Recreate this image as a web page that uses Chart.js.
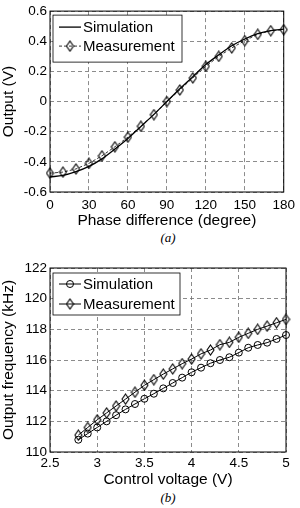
<!DOCTYPE html>
<html>
<head>
<meta charset="utf-8">
<script src="https://cdn.jsdelivr.net/npm/chart.js@4.4.1/dist/chart.umd.min.js"></script>
<style>
html, body { margin: 0; padding: 0; background: #fff; }
body { width: 300px; height: 508px; position: relative; overflow: hidden; }
.box { position: absolute; left: 0; width: 300px; }
.cap { position: absolute; left: 50px; width: 236px; text-align: center; line-height: 15px;
       font: italic 13px "Liberation Serif", "DejaVu Serif", serif; }
</style>
</head>
<body>
<div class="box" style="top:0;height:230px"><canvas id="phaseChart"></canvas></div>
<div class="cap" style="top:230px">(a)</div>
<div class="box" style="top:254px;height:235px"><canvas id="freqChart"></canvas></div>
<div class="cap" style="top:490px">(b)</div>
<script>
// (a) Output vs phase difference
const phaseDeg  = [0, 10, 20, 30, 40, 50, 60, 70, 80, 90, 100, 110, 120, 130, 140, 150, 160, 170, 180];
const phaseSim  = [-0.50, -0.49, -0.465, -0.43, -0.38, -0.315, -0.245, -0.165, -0.085, 0.0, 0.085, 0.165, 0.245, 0.31, 0.37, 0.415, 0.45, 0.47, 0.48];
const phaseMeas = [-0.475, -0.468, -0.447, -0.41, -0.36, -0.30, -0.236, -0.164, -0.087, 0.0, 0.077, 0.157, 0.234, 0.30, 0.356, 0.404, 0.446, 0.47, 0.477];
const phaseXTicks = [0, 30, 60, 90, 120, 150, 180];
const phaseYTicks = [-0.6, -0.4, -0.2, 0, 0.2, 0.4, 0.6];

// (b) Output frequency vs control voltage
const voltage  = [2.8, 2.9, 3.0, 3.1, 3.2, 3.3, 3.4, 3.5, 3.6, 3.7, 3.8, 3.9, 4.0, 4.1, 4.2, 4.3, 4.4, 4.5, 4.6, 4.7, 4.8, 4.9, 5.0];
const freqSim  = [110.8, 111.2, 111.6, 112.0, 112.4, 112.78, 113.13, 113.47, 113.8, 114.15, 114.5, 114.85, 115.2, 115.5, 115.79, 116.0, 116.18, 116.48, 116.8, 116.98, 117.13, 117.37, 117.63];
const freqMeas = [111.1, 111.6, 112.1, 112.55, 113.0, 113.45, 113.9, 114.35, 114.72, 115.08, 115.42, 115.76, 116.06, 116.4, 116.65, 117.0, 117.15, 117.48, 117.74, 118.0, 118.21, 118.43, 118.65];
const voltXTicks = [2.5, 3, 3.5, 4, 4.5, 5];
const freqYTicks = [110, 112, 114, 116, 118, 120, 122];

const FONT = '"Liberation Sans", Arial, sans-serif';
Chart.defaults.font.family = FONT;
Chart.defaults.color = '#000';

function toPoints(xs, ys) {
    return xs.map((x, i) => ({x: x, y: ys[i]}));
}

// losange étroit (marqueur 'd' de MATLAB), non rempli
function diamondMarker(w, h) {
    const c = document.createElement('canvas');
    c.width = w + 2;
    c.height = h + 2;
    const g = c.getContext('2d');
    g.beginPath();
    g.moveTo(c.width / 2, 1);
    g.lineTo(c.width - 1, c.height / 2);
    g.lineTo(c.width / 2, c.height - 1);
    g.lineTo(1, c.height / 2);
    g.closePath();
    g.strokeStyle = '#000';
    g.lineWidth = 1.1;
    g.stroke();
    return c;
}
const diamond = diamondMarker(7, 10);

// cadre noir autour de la zone du graphique (box on)
const frame = {
    id: 'frame',
    beforeDatasetsDraw(chart) {
        const {ctx, chartArea: a} = chart;
        ctx.save();
        ctx.strokeStyle = '#000';
        ctx.lineWidth = 1;
        ctx.strokeRect(a.left, a.top, a.right - a.left, a.bottom - a.top);
        ctx.restore();
    }
};

// légende encadrée dans le coin haut gauche
const boxLegend = {
    id: 'boxLegend',
    afterDatasetsDraw(chart, args, opts) {
        const {ctx, chartArea} = chart;
        const x = chartArea.left + opts.dx, y = chartArea.top + opts.dy;
        ctx.save();
        ctx.fillStyle = '#fff';
        ctx.fillRect(x, y, opts.w, opts.h);
        ctx.strokeStyle = '#000';
        ctx.lineWidth = 0.8;
        ctx.strokeRect(x, y, opts.w, opts.h);
        ctx.font = '15px ' + FONT;
        ctx.textBaseline = 'middle';
        chart.data.datasets.forEach((ds, i) => {
            const ly = y + opts.rows[i];
            const x0 = x + 6, x1 = x + 28;
            ctx.beginPath();
            ctx.setLineDash(ds.borderDash || []);
            ctx.lineWidth = ds.borderWidth;
            ctx.strokeStyle = ds.borderColor;
            ctx.moveTo(x0, ly);
            ctx.lineTo(x1, ly);
            ctx.stroke();
            ctx.setLineDash([]);
            if (ds.pointRadius > 0) {
                ctx.fillStyle = ds.pointBackgroundColor;
                ctx.strokeStyle = ds.pointBorderColor;
                ctx.lineWidth = ds.pointBorderWidth;
                Chart.helpers.drawPoint(ctx, {pointStyle: ds.pointStyle, radius: ds.pointRadius, borderWidth: ds.pointBorderWidth}, (x0 + x1) / 2, ly);
            }
            ctx.fillStyle = '#000';
            ctx.fillText(ds.label, x + 30, ly + 1);
        });
        ctx.restore();
    }
};

function axis(ticks, opts) {
    return Object.assign({
        type: 'linear',
        min: ticks[0],
        max: ticks[ticks.length - 1],
        afterBuildTicks: s => { s.ticks = ticks.map(v => ({value: v})); },
        grid: {color: '#6e6e6e', lineWidth: 0.8, drawTicks: false},
        border: {display: false, dash: [4, 3]}
    }, opts);
}

function makeChart(id, cfg) {
    return new Chart(document.getElementById(id).getContext('2d'), {
        type: 'line',
        data: {datasets: cfg.datasets},
        options: {
            animation: false,
            responsive: true,
            maintainAspectRatio: false,
            layout: {padding: {left: 0, right: 14, top: cfg.top, bottom: 0}},
            plugins: {legend: {display: false}, tooltip: {enabled: false}, boxLegend: cfg.legend},
            scales: {
                x: axis(cfg.xTicks, {
                    ticks: {font: {size: 13.5}, color: '#000', padding: cfg.xPad, autoSkip: false, maxRotation: 0, callback: v => String(v)},
                    title: {display: true, text: cfg.xTitle, font: {size: 15.5}, color: '#000', padding: {top: 0, bottom: 0}},
                    afterFit: s => { s.height = cfg.xHeight; }
                }),
                y: axis(cfg.yTicks, {
                    ticks: {font: {size: 13.5}, color: '#000', padding: 3, autoSkip: false, callback: cfg.yFmt},
                    title: {display: true, text: cfg.yTitle, font: {size: 15.5}, color: '#000', padding: {top: -1, bottom: 0}},
                    afterFit: s => { s.width = 50; }
                })
            }
        },
        plugins: [frame, boxLegend]
    });
}

makeChart('phaseChart', {
    top: 9, xHeight: 38, xPad: 5,
    xTicks: phaseXTicks, yTicks: phaseYTicks,
    yFmt: v => String(+v.toFixed(1)),
    xTitle: 'Phase difference (degree)', yTitle: 'Output (V)',
    legend: {dx: 3, dy: 4, w: 129, h: 47, rows: [12, 31]},
    datasets: [{
        label: 'Simulation',
        data: toPoints(phaseDeg, phaseSim),
        borderColor: '#000', borderWidth: 1.3,
        pointRadius: 0, cubicInterpolationMode: 'monotone', clip: false
    }, {
        label: 'Measurement',
        data: toPoints(phaseDeg, phaseMeas),
        borderColor: '#000', borderWidth: 0.8, borderDash: [3, 2],
        pointStyle: diamond, pointRadius: 4,
        pointBackgroundColor: 'rgba(0,0,0,0)', pointBorderColor: '#000', pointBorderWidth: 1,
        tension: 0, clip: false
    }]
});

makeChart('freqChart', {
    top: 14, xHeight: 37, xPad: 3,
    xTicks: voltXTicks, yTicks: freqYTicks,
    yFmt: v => String(v),
    xTitle: 'Control voltage (V)', yTitle: 'Output frequency (kHz)',
    legend: {dx: 3, dy: 5, w: 127, h: 42, rows: [11, 31]},
    datasets: [{
        label: 'Simulation',
        data: toPoints(voltage, freqSim),
        borderColor: '#000', borderWidth: 1,
        pointStyle: 'circle', pointRadius: 3.5,
        pointBackgroundColor: 'rgba(0,0,0,0)', pointBorderColor: '#000', pointBorderWidth: 1,
        tension: 0, clip: false
    }, {
        label: 'Measurement',
        data: toPoints(voltage, freqMeas),
        borderColor: '#000', borderWidth: 1,
        pointStyle: diamond, pointRadius: 4,
        pointBackgroundColor: 'rgba(0,0,0,0)', pointBorderColor: '#000', pointBorderWidth: 1,
        tension: 0, clip: false
    }]
});
</script>
</body>
</html>
